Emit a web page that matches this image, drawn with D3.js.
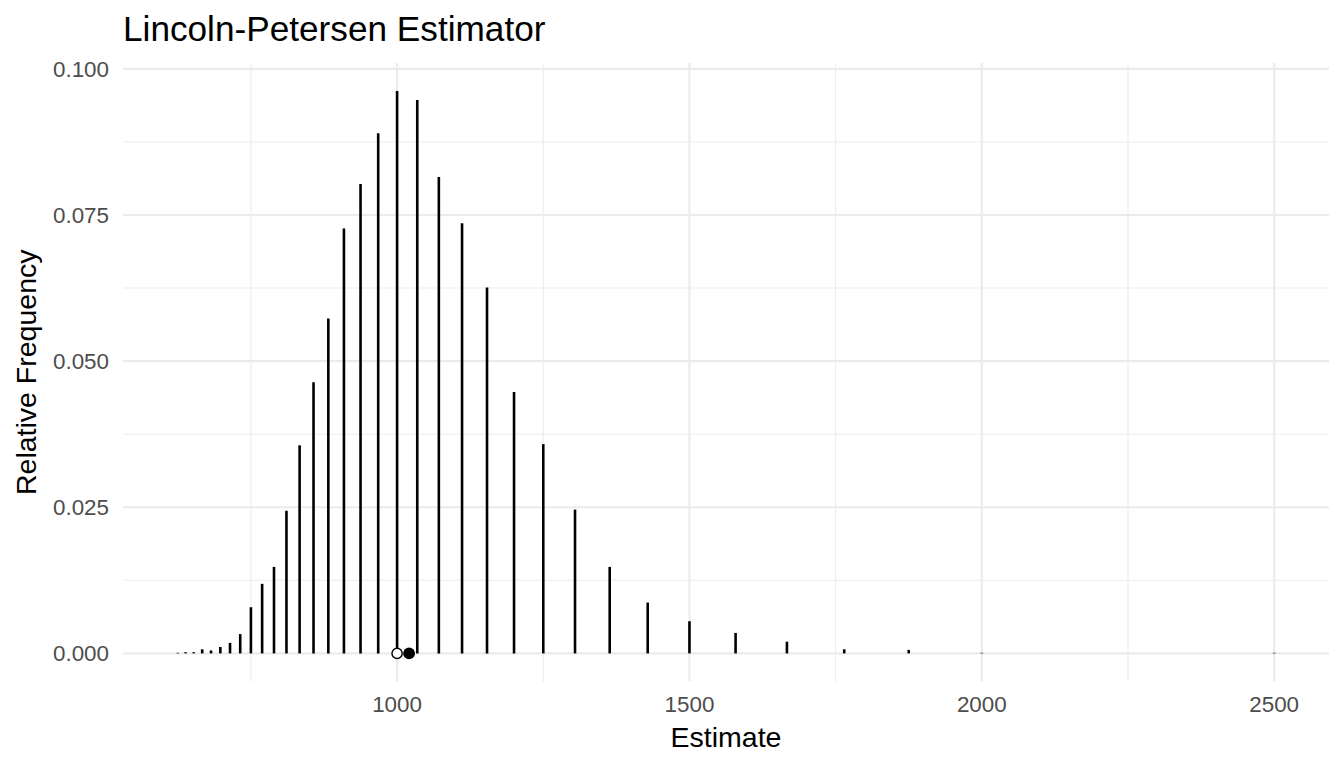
<!DOCTYPE html>
<html><head><meta charset="utf-8">
<script src="https://cdn.jsdelivr.net/npm/d3@7"></script>
<style>body{margin:0;background:#fff}svg{display:block}text{font-family:"Liberation Sans",Arial,sans-serif}</style>
</head><body>
<svg id="c" width="1344" height="768"></svg>
<script>
const estimates = [625, 638.3, 652.2, 666.7, 681.8, 697.7, 714.3, 731.7, 750, 769.2, 789.5, 810.8, 833.3, 857.1, 882.4, 909.1, 937.5, 967.7, 1000, 1034.5, 1071.4, 1111.1, 1153.8, 1200, 1250, 1304.3, 1363.6, 1428.6, 1500, 1578.9, 1666.7, 1764.7, 1875, 2000, 2500];
const relFreq = [0.0001, 0.0002, 0.0002, 0.0007, 0.0005, 0.0011, 0.0018, 0.0033, 0.0079, 0.0119, 0.0148, 0.0244, 0.0356, 0.0464, 0.0573, 0.0727, 0.0803, 0.0890, 0.0962, 0.0947, 0.0815, 0.0736, 0.0626, 0.0447, 0.0358, 0.0246, 0.0148, 0.0087, 0.0055, 0.0035, 0.0020, 0.0007, 0.0006, 0.0001, 0.0001];
const trueN = 1000;
const meanEstimate = 1020.5;
const xTicks = [1000, 1500, 2000, 2500];
const xMinor = [750, 1250, 1750, 2250];
const yTicks = [0, 0.025, 0.05, 0.075, 0.1];
const yMinor = [0.0125, 0.0375, 0.0625, 0.0875];

const svg = d3.select("#c");
const L = 123, R = 1329, T = 63, B = 681.5;
const xmin = d3.min(estimates), xmax = d3.max(estimates);
const xpad = (xmax - xmin) * 0.05;
const ymax = d3.max(relFreq), ypad = ymax * 0.05;
const x = d3.scaleLinear().domain([xmin - xpad, xmax + xpad]).range([L, R]);
const y = d3.scaleLinear().domain([-ypad, ymax + ypad]).range([B, T]);

const g = svg.append("g");
// minor grid
g.selectAll(".xm").data(xMinor).join("line")
  .attr("x1", d => x(d)).attr("x2", d => x(d)).attr("y1", T).attr("y2", B)
  .attr("stroke", "#ebebeb").attr("stroke-width", 1.07);
g.selectAll(".ym").data(yMinor).join("line")
  .attr("y1", d => y(d)).attr("y2", d => y(d)).attr("x1", L).attr("x2", R)
  .attr("stroke", "#ebebeb").attr("stroke-width", 1.07);
// major grid
g.selectAll(".xM").data(xTicks).join("line")
  .attr("x1", d => x(d)).attr("x2", d => x(d)).attr("y1", T).attr("y2", B)
  .attr("stroke", "#ebebeb").attr("stroke-width", 2.13);
g.selectAll(".yM").data(yTicks).join("line")
  .attr("y1", d => y(d)).attr("y2", d => y(d)).attr("x1", L).attr("x2", R)
  .attr("stroke", "#ebebeb").attr("stroke-width", 2.13);

// segments
const data = estimates.map((e, i) => ({e, f: relFreq[i]}));
g.selectAll(".seg").data(data).join("line")
  .attr("x1", d => x(d.e)).attr("x2", d => x(d.e))
  .attr("y1", y(0)).attr("y2", d => y(d.f))
  .attr("stroke", "#000").attr("stroke-width", 2.6);

// points
g.append("circle").attr("cx", x(trueN)).attr("cy", y(0)).attr("r", 5.1)
  .attr("fill", "#fff").attr("stroke", "#000").attr("stroke-width", 1.4);
g.append("circle").attr("cx", x(meanEstimate)).attr("cy", y(0)).attr("r", 5.9)
  .attr("fill", "#000");

// tick labels
g.selectAll(".xt").data(xTicks).join("text")
  .attr("x", d => x(d)).attr("y", 711.5).attr("text-anchor", "middle")
  .attr("font-size", 22.4).attr("fill", "#4d4d4d").text(d => d);
g.selectAll(".yt").data(yTicks).join("text")
  .attr("x", 109).attr("y", d => y(d)).attr("dy", "0.355em").attr("text-anchor", "end")
  .attr("font-size", 22.4).attr("fill", "#4d4d4d").text(d => d3.format(".3f")(d));

// axis titles
svg.append("text").attr("x", (L + R) / 2).attr("y", 746.5).attr("text-anchor", "middle")
  .attr("font-size", 28.5).attr("fill", "#000").text("Estimate");
svg.append("text").attr("transform", `translate(35.5,${(T + B) / 2}) rotate(-90)`)
  .attr("text-anchor", "middle").attr("font-size", 28.5).attr("fill", "#000").text("Relative Frequency");
svg.append("text").attr("x", L).attr("y", 41).attr("font-size", 35.2).attr("fill", "#000")
  .text("Lincoln-Petersen Estimator");
</script>
</body></html>
